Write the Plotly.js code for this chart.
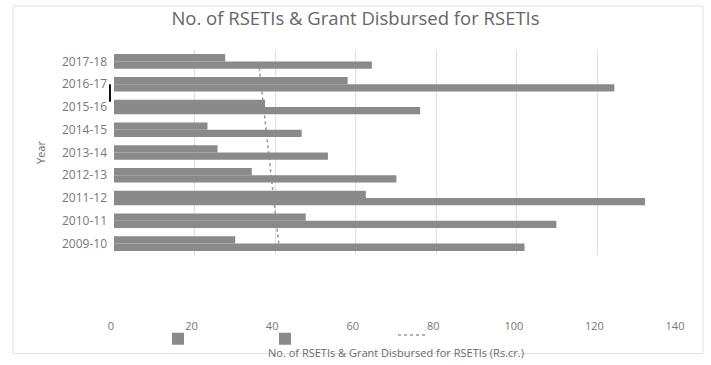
<!DOCTYPE html>
<html>
<head>
<meta charset="utf-8">
<script src="https://cdn.plot.ly/plotly-3.0.1.min.js"></script>
<style>html,body{margin:0;padding:0;background:#fff}#chart{width:711px;height:365px}</style>
</head>
<body>
<div id="chart"></div>
<script>
// Years (bottom to top)
const years = ["2009-10","2010-11","2011-12","2012-13","2013-14","2014-15","2015-16","2016-17","2017-18"];
// No. of RSETIs (upper bar of each pair)
const rsetis = [30.1, 47.6, 62.5, 34.2, 25.7, 23.2, 37.5, 58.0, 27.6];
// Grant disbursed, Rs. crore (lower bar of each pair)
const grant = [101.9, 109.8, 131.8, 70.1, 53.1, 46.6, 76.0, 124.2, 64.0];
// Dotted line series
const dotted = [40.9, 40.2, 39.6, 39.0, 38.4, 37.7, 37.1, 36.5, 35.9];
const xTicks = [0, 20, 40, 60, 80, 100, 120, 140];

const barColor = "#8a8a8a";
const textColor = "#6b6b6b";
const L = 114, R = 678, T = 50, B = 260;
const px = v => (v - L) / (R - L);
const py = v => (B - v) / (B - T);

// Legend entries carry no visible text in the reference
const data = [
  {type: "scatter", mode: "lines", x: dotted, y: years, name: " ", xaxis: "x", yaxis: "y",
   line: {color: "#9a9a9a", width: 1.5, dash: "dot"}, legend: "legend3", showlegend: true,
   hovertemplate: "Trend: %{x}<extra></extra>"},
  {type: "bar", orientation: "h", x: grant, y: years, name: " ", xaxis: "x2", yaxis: "y2",
   marker: {color: barColor}, legend: "legend2", hovertemplate: "Grant Disbursed (Rs.cr.): %{x}<extra></extra>"},
  {type: "bar", orientation: "h", x: rsetis, y: years, name: " ", xaxis: "x2", yaxis: "y2",
   marker: {color: barColor}, legend: "legend", hovertemplate: "No. of RSETIs: %{x}<extra></extra>"}
];

const legBase = {orientation: "h", bgcolor: "rgba(0,0,0,0)", font: {color: "#6b6b6b", size: 10},
  xanchor: "left", yanchor: "top", itemclick: false};

const layout = {
  width: 711, height: 365,
  margin: {l: L, r: 711 - R, t: T, b: 365 - B},
  paper_bgcolor: "#fff", plot_bgcolor: "#fff",
  font: {family: "Open Sans, Liberation Sans, sans-serif", color: textColor},
  title: {text: "No. of RSETIs & Grant Disbursed for RSETIs", x: 0.5, xanchor: "center", y: 0.95, yanchor: "middle",
          font: {size: 18.5, color: "#666"}},
  barmode: "group", bargap: 0.36, bargroupgap: 0,
  xaxis: {range: [0, 140], tickvals: xTicks, ticktext: xTicks.map(String),
          showgrid: true, gridcolor: "#dedede", gridwidth: 1, zeroline: false,
          showline: false, ticks: "", ticklabelstandoff: 63, ticklabelshift: -3,
          tickfont: {size: 11, color: "#777"},
          title: {text: "No. of RSETIs & Grant Disbursed for RSETIs (Rs.cr.)", standoff: 17, font: {size: 11, color: "#6b6b6b"}},
          automargin: false, fixedrange: true},
  yaxis: {type: "category", categoryorder: "array", categoryarray: years, range: [-0.5, 8.5],
          showgrid: false, showline: false, zeroline: false, ticks: "", ticklabelstandoff: 6,
          tickfont: {size: 12, color: "#777"},
          title: {text: "Year", standoff: 14, font: {size: 11, color: "#6b6b6b"}},
          automargin: false, fixedrange: true},
  xaxis2: {overlaying: "x", range: [0, 140], visible: false, fixedrange: true},
  yaxis2: {overlaying: "y", type: "category", categoryorder: "array", categoryarray: years, range: [-0.5, 8.5],
           visible: false, fixedrange: true},
  legend: Object.assign({}, legBase, {x: px(158), y: py(331)}),
  legend2: Object.assign({}, legBase, {x: px(265), y: py(331)}),
  legend3: Object.assign({}, legBase, {x: px(393), y: py(327)}),
  shapes: [
    {type: "rect", xref: "paper", yref: "paper", x0: px(13), x1: px(703), y0: py(361), y1: py(5),
     line: {color: "#e2e2e2", width: 1}, layer: "below"},
    {type: "line", xref: "paper", yref: "paper", x0: px(110), x1: px(110), y0: py(85), y1: py(103),
     line: {color: "#111", width: 2}}
  ],
  showlegend: true
};

Plotly.newPlot("chart", data, layout, {displayModeBar: false, staticPlot: true});
</script>
</body>
</html>
